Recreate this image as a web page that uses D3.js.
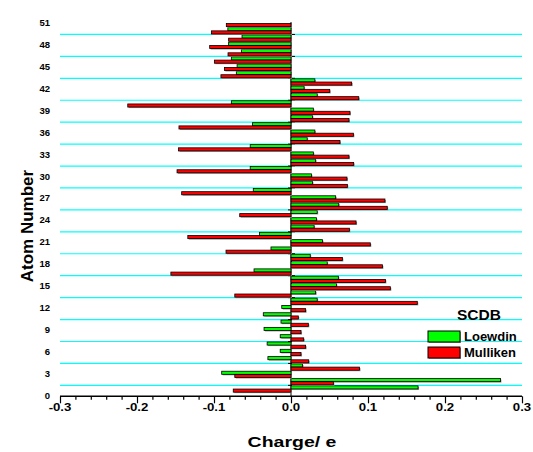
<!DOCTYPE html>
<html>
<head>
<meta charset="utf-8">
<script src="https://cdn.jsdelivr.net/npm/d3@7"></script>
<style>
  body { margin: 0; background: #fff; }
  text { font-family: "Liberation Sans", Arial, sans-serif; font-weight: bold; fill: #000; }
</style>
</head>
<body>
<div id="chart"></div>
<script>
// Atom numbers (categories)
const atoms = [1, 2, 3, 4, 5, 6, 7, 8, 9, 10, 11, 12, 13, 14, 15, 16, 17, 18, 19, 20,
  21, 22, 23, 24, 25, 26, 27, 28, 29, 30, 31, 32, 33, 34, 35, 36, 37, 38, 39, 40,
  41, 42, 43, 44, 45, 46, 47, 48, 49, 50, 51];

// Loewdin charges
const loewdin = [0.165, 0.272, -0.090, 0.015, -0.030, -0.014, -0.031, -0.014, -0.035, -0.013,
  -0.036, -0.012, 0.034, 0.032, 0.059, 0.0615, -0.048, 0.047, 0.025, -0.026,
  0.041, -0.041, 0.030, 0.033, 0.034, 0.062, 0.058, -0.049, 0.028, 0.0265,
  -0.053, 0.032, 0.029, -0.053, 0.021, 0.031, -0.050, 0.028, 0.029, -0.0775,
  0.034, 0.017, 0.031, -0.071, -0.070, -0.0775, -0.0645, -0.081, -0.0636, -0.082, 0];

// Mulliken charges
const mulliken = [-0.075, 0.055, -0.073, 0.089, 0.023, 0.013, 0.019, 0.0165, 0.013, 0.0225,
  0.0095, 0.019, 0.164, -0.073, 0.129, 0.1226, -0.156, 0.1187, 0.0667, -0.0844,
  0.103, -0.134, 0.0758, 0.0845, -0.0666, 0.125, 0.122, -0.142, 0.0732, 0.0727,
  -0.148, 0.0814, 0.0753, -0.146, 0.0636, 0.081, -0.1455, 0.0753, 0.0766, -0.212,
  0.088, 0.0503, 0.0788, -0.091, -0.0865, -0.0995, -0.0818, -0.1056, -0.081, -0.1034, -0.084];

// Tick labels
const xTicks = [-0.3, -0.2, -0.1, 0.0, 0.1, 0.2, 0.3];
const yTicks = [0, 3, 6, 9, 12, 15, 18, 21, 24, 27, 30, 33, 36, 39, 42, 45, 48, 51];
const gridVals = [1.5, 4.5, 7.5, 10.5, 13.5, 16.5, 19.5, 22.5, 25.5, 28.5, 31.5, 34.5, 37.5, 40.5, 43.5, 46.5, 49.5];

const series = [
  { name: "Loewdin", values: loewdin, color: "#00ff00", offset: -1.6 },
  { name: "Mulliken", values: mulliken, color: "#ff0000", offset: 1.6 }
];

const width = 533, height = 452;
const svg = d3.select("#chart").append("svg")
  .attr("width", width)
  .attr("height", height);

const x = d3.scaleLinear().domain([-0.3, 0.3]).range([60, 522]);
const y = d3.scaleLinear().domain([0, 51]).range([396.3, 23.5]);
const barH = 3.1;

// Gridlines
svg.append("g").selectAll("line")
  .data(gridVals)
  .join("line")
  .attr("x1", x(-0.3))
  .attr("x2", x(0.3))
  .attr("y1", d => y(d))
  .attr("y2", d => y(d))
  .attr("stroke", "#00ffff")
  .attr("stroke-width", 1.2);

// Zero axis line with ticks
svg.append("line")
  .attr("x1", x(0)).attr("x2", x(0))
  .attr("y1", y(0)).attr("y2", y(51.2))
  .attr("stroke", "#000")
  .attr("stroke-width", 1);

svg.append("g").selectAll("line")
  .data(gridVals)
  .join("line")
  .attr("x1", x(0) - 3)
  .attr("x2", x(0) + 4)
  .attr("y1", d => y(d))
  .attr("y2", d => y(d))
  .attr("stroke", "#000")
  .attr("stroke-width", 1);

// Bars
series.forEach(s => {
  const g = svg.append("g");
  const rows = atoms.map((a, i) => ({ atom: a, value: s.values[i] }));
  // shadow
  g.selectAll("rect.shadow")
    .data(rows)
    .join("rect")
    .attr("class", "shadow")
    .attr("x", d => Math.min(x(0), x(d.value)) + 1)
    .attr("y", d => y(d.atom) + s.offset - barH / 2 + 1)
    .attr("width", d => Math.abs(x(d.value) - x(0)))
    .attr("height", barH)
    .attr("fill", "#9a9a9a");
  g.selectAll("rect.bar")
    .data(rows)
    .join("rect")
    .attr("class", "bar")
    .attr("x", d => Math.min(x(0), x(d.value)))
    .attr("y", d => y(d.atom) + s.offset - barH / 2)
    .attr("width", d => Math.abs(x(d.value) - x(0)))
    .attr("height", barH)
    .attr("fill", s.color)
    .attr("stroke", "#000")
    .attr("stroke-width", 0.8);
});

// Bottom axis
const xAxis = d3.axisBottom(x)
  .tickValues(d3.range(-30, 31, 2).map(v => v / 100))
  .tickSize(3.5)
  .tickFormat("");
const ax = svg.append("g")
  .attr("transform", `translate(0,${y(0)})`)
  .call(xAxis);
ax.select(".domain").attr("stroke-width", 1.5).attr("d", `M${x(-0.3)},0H${x(0.3)}`);
ax.selectAll(".tick line").attr("stroke-width", 1.2);
ax.selectAll(".tick")
  .filter(d => xTicks.some(t => Math.abs(t - d) < 1e-9))
  .select("line").attr("y2", 7);

svg.append("g").selectAll("text")
  .data(xTicks)
  .join("text")
  .attr("transform", d => `translate(${x(d)},411) scale(1.2,1)`)
  .attr("text-anchor", "middle")
  .attr("font-size", 11)
  .text(d => d.toFixed(1));

// Left tick labels
svg.append("g").selectAll("text")
  .data(yTicks)
  .join("text")
  .attr("x", 50)
  .attr("y", d => y(d) - 0.8)
  .attr("dy", "0.35em")
  .attr("text-anchor", "end")
  .attr("font-size", 9.5)
  .text(d => d);

// Axis titles
svg.append("text")
  .attr("transform", "translate(292,447) scale(1.3,1)")
  .attr("text-anchor", "middle")
  .attr("font-size", 15)
  .text("Charge/ e");

svg.append("text")
  .attr("transform", "translate(33,226) rotate(-90)")
  .attr("text-anchor", "middle")
  .attr("font-size", 17)
  .text("Atom Number");

// Legend
svg.append("text")
  .attr("x", 457).attr("y", 319.5)
  .attr("font-size", 15.5)
  .text("SCDB");

const leg = svg.append("g").selectAll("g")
  .data(series)
  .join("g")
  .attr("transform", (d, i) => `translate(428,${331 + i * 16})`);
leg.append("rect")
  .attr("x", 1).attr("y", 1)
  .attr("width", 32).attr("height", 11)
  .attr("fill", "#9a9a9a");
leg.append("rect")
  .attr("width", 32).attr("height", 11)
  .attr("fill", d => d.color)
  .attr("stroke", "#000")
  .attr("stroke-width", 1);
leg.append("text")
  .attr("x", 36).attr("y", 10)
  .attr("font-size", 13)
  .text(d => d.name);
</script>
</body>
</html>
